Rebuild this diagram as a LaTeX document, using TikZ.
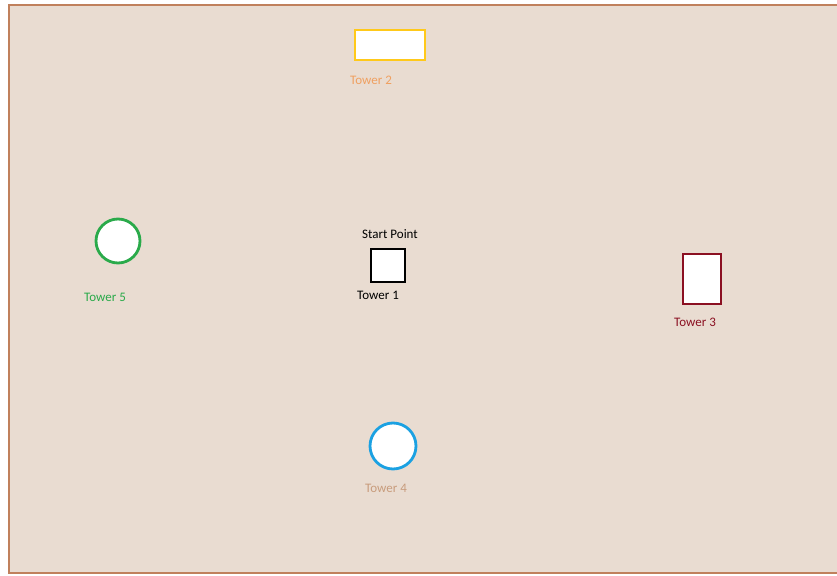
\documentclass[tikz,border=0pt]{standalone}
\usepackage{fontspec}
\setmainfont{Carlito}
\definecolor{bgc}{HTML}{E9DCD1}
\definecolor{framec}{HTML}{C0805C}
\definecolor{yel}{HTML}{FFC91A}
\definecolor{orlab}{HTML}{F0A060}
\definecolor{dred}{HTML}{8B1022}
\definecolor{bluec}{HTML}{1BA1E2}
\definecolor{tanlab}{HTML}{C89C7C}
\definecolor{grn}{HTML}{2AAA4A}
\begin{document}
\begin{tikzpicture}[x=1pt,y=-1pt,
  shp/.style={fill=white,line width=2.8pt,inner sep=0pt,outer sep=0pt},
  lab/.style={font=\fontsize{13}{15}\selectfont,inner sep=0pt,anchor=center}]
\useasboundingbox (0,0) rectangle (837,575);
\fill[bgc] (9,5) rectangle (840,573);
\draw[framec,line width=2.5pt] (840,5) -- (9,5) -- (9,573) -- (840,573);
% Tower 2
\node[shp,draw=yel,rectangle,minimum width=70pt,minimum height=30pt] (t2) at (390,45) {};
\node[lab,text=orlab] (t2l) at (371,80) {Tower 2};
% Tower 1
\node[lab,text=black] (sp) at (390,234) {Start Point};
\node[shp,draw=black,rectangle,minimum width=34pt,minimum height=33pt] (t1) at (388,265.5) {};
\node[lab,text=black] (t1l) at (378,295) {Tower 1};
% Tower 3
\node[shp,draw=dred,rectangle,minimum width=38pt,minimum height=50pt] (t3) at (702,279) {};
\node[lab,text=dred] (t3l) at (695,322) {Tower 3};
% Tower 4
\node[shp,draw=bluec,circle,minimum size=46pt] (t4) at (393,446) {};
\node[lab,text=tanlab] (t4l) at (386,488) {Tower 4};
% Tower 5
\node[shp,draw=grn,circle,minimum size=44pt] (t5) at (118,241) {};
\node[lab,text=grn] (t5l) at (105,297) {Tower 5};
\end{tikzpicture}
\end{document}
